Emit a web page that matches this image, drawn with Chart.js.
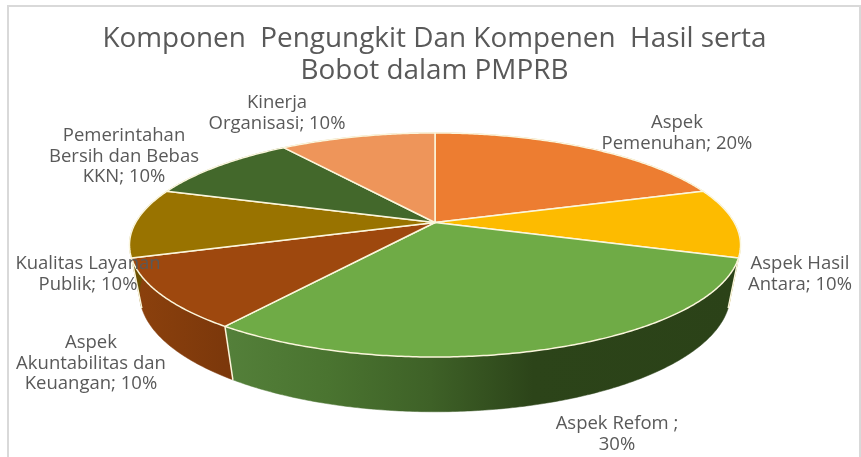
<!DOCTYPE html>
<html><head><meta charset="utf-8">
<style>html,body{margin:0;padding:0;background:#fff}canvas{display:block}</style>
<script src="https://cdn.jsdelivr.net/npm/chart.js@4"></script>
</head><body><canvas id="c" width="861" height="457"></canvas>
<script>
const titleLines = ["Komponen  Pengungkit Dan Kompenen  Hasil serta", "Bobot dalam PMPRB"];
const categories = ["Aspek Pemenuhan","Aspek Hasil Antara","Aspek Refom","Aspek Akuntabilitas dan Keuangan","Kualitas Layanan Publik","Pemerintahan Bersih dan Bebas KKN","Kinerja Organisasi"];
const values = [20,10,30,10,10,10,10];
const labelLines = [["Aspek","Pemenuhan; 20%"],["Aspek Hasil","Antara; 10%"],["Aspek Refom ;","30%"],["Aspek","Akuntabilitas dan","Keuangan; 10%"],["Kualitas Layanan","Publik; 10%"],["Pemerintahan","Bersih dan Bebas","KKN; 10%"],["Kinerja","Organisasi; 10%"]];
const topColors = ["#ED7D31","#FDBB00","#6FAB46","#9E480E","#997300","#43682B","#EE955A"];
const sideColors = [["#A5571F","#A5571F"],["#B08600","#B08600"],["#2B4218","#54803A"],["#7C380B","#8C410D"],["#6B5000","#6B5000"],["#2F4A1E","#2F4A1E"],["#A86A40","#A86A40"]];

// layout of the drawing, kept apart from the data
const labelCenters = [[677,123],[800,264],[617,424],[91,343],[88,264],[124,136],[277,103]];
const labelLineGap = 20.4;
const view = {x0:435,y0:222.5,b:299.3,a:107.5,k:0.2009,depthY:50,depthW:0.033};

function project(theta, z){
  const u = Math.sin(theta), v = -Math.cos(theta);
  const w = 1 - view.k*v + view.depthW*z;
  return [view.x0 + view.b*u/w, view.y0 + (view.a*v + view.depthY*z)/w];
}
function arcPts(t0,t1,z){
  const n = Math.max(2,Math.ceil((t1-t0)/0.01)), pts=[];
  for(let i=0;i<=n;i++) pts.push(project(t0+(t1-t0)*i/n,z));
  return pts;
}
const tilted = {
  id:'tilted',
  beforeDatasetsDraw(chart){
    const ctx = chart.ctx, arcs = chart.getDatasetMeta(0).data;
    const spans = arcs.map(el=>[el.startAngle+Math.PI/2, el.endAngle+Math.PI/2]);
    ctx.save();
    ctx.lineJoin='round';
    // side wall
    spans.forEach(([t0,t1],i)=>{
      const top=arcPts(t0,t1,0), bot=arcPts(t0,t1,1).reverse();
      const g=ctx.createLinearGradient(top[0][0],0,top[top.length-1][0],0);
      g.addColorStop(0, sideColors[i][0]);
      if(i===2){g.addColorStop(0.4,"#2C4419");g.addColorStop(0.6,"#3E6127");g.addColorStop(0.8,"#4A7430");}
      g.addColorStop(1, sideColors[i][1]);
      ctx.beginPath();
      top.concat(bot).forEach((p,j)=>j?ctx.lineTo(p[0],p[1]):ctx.moveTo(p[0],p[1]));
      ctx.closePath();
      ctx.fillStyle=g; ctx.strokeStyle=g; ctx.lineWidth=0.5;
      ctx.fill(); ctx.stroke();
    });
    // light edge where a visible wall changes slice
    ctx.strokeStyle="#FBF6DC"; ctx.lineWidth=1.5;
    spans.forEach(([t0])=>{
      if(-Math.cos(t0)>0.25){
        const a=project(t0,0), b=project(t0,1);
        ctx.beginPath();ctx.moveTo(a[0],a[1]);ctx.lineTo(b[0],b[1]);ctx.stroke();
      }
    });
    // top face
    spans.forEach(([t0,t1],i)=>{
      ctx.beginPath();
      ctx.moveTo(view.x0,view.y0);
      arcPts(t0,t1,0).forEach(p=>ctx.lineTo(p[0],p[1]));
      ctx.closePath();
      ctx.fillStyle=topColors[i]; ctx.fill();
      ctx.strokeStyle="#FBF6DC"; ctx.lineWidth=1.5; ctx.stroke();
    });
    ctx.restore();
    return false;
  },
  afterDraw(chart){
    const ctx=chart.ctx;
    ctx.save();
    ctx.font='18.5px "Open Sans"';
    ctx.fillStyle='#595959';
    ctx.textAlign='center';ctx.textBaseline='middle';
    labelLines.forEach((lines,i)=>{
      lines.forEach((s,j)=>ctx.fillText(s,labelCenters[i][0],labelCenters[i][1]+j*labelLineGap));
    });
    ctx.restore();
  },
  beforeDraw(chart){
    const ctx=chart.ctx;
    ctx.save();
    ctx.fillStyle='#fff';ctx.fillRect(0,0,861,457);
    ctx.strokeStyle='#D9D9D9';ctx.lineWidth=2;
    ctx.strokeRect(8,6,852,470);
    ctx.restore();
  }
};
new Chart(document.getElementById('c'),{
  type:'pie',
  data:{labels:categories,datasets:[{data:values,backgroundColor:topColors}]},
  options:{
    responsive:false,animation:false,
    layout:{padding:{left:8}},
    plugins:{
      legend:{display:false},tooltip:{enabled:false},
      title:{display:true,text:titleLines,color:'#595959',
        font:{family:'"Open Sans"',size:27.9,weight:'normal',lineHeight:1.15},
        padding:{top:23,bottom:10}}
    }
  },
  plugins:[tilted]
});
</script></body></html>
